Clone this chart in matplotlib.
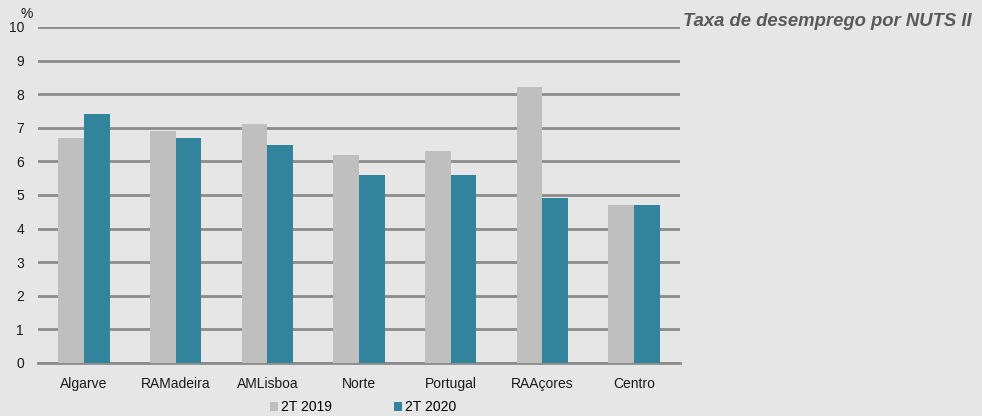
import matplotlib
matplotlib.use("Agg")
import matplotlib.pyplot as plt
import numpy as np

plt.rcParams["font.family"] = ["Liberation Sans", "DejaVu Sans"]

# --- dados ---
categorias = ["Algarve", "RAMadeira", "AMLisboa", "Norte", "Portugal", "RAAçores", "Centro"]
t2_2019 = [6.7, 6.9, 7.1, 6.2, 6.3, 8.2, 4.7]
t2_2020 = [7.4, 6.7, 6.5, 5.6, 5.6, 4.9, 4.7]
series_labels = ["2T 2019", "2T 2020"]
titulo = "Taxa de desemprego por NUTS II"

BG = "#e6e6e6"
CINZA = "#bfbfbf"
AZUL = "#31849b"
GRELHA = "#8c8c8c"

fig = plt.figure(figsize=(9.82, 4.16), dpi=100, facecolor=BG)
ax = fig.add_axes([38 / 982, 1 - 363 / 416, 642 / 982, 336 / 416])
ax.set_facecolor(BG)

x = np.arange(len(categorias))
w = 0.28
ax.bar(x - w / 2, t2_2019, w, color=CINZA, label=series_labels[0], zorder=3)
ax.bar(x + w / 2, t2_2020, w, color=AZUL, label=series_labels[1], zorder=3)

ax.set_xlim(-0.5, len(categorias) - 0.5)
ax.set_ylim(0, 10)
ax.set_yticks(range(0, 11))
ax.yaxis.grid(True, color=GRELHA, linewidth=2, zorder=0)
ax.set_axisbelow(True)
for s in ["top", "right", "left"]:
    ax.spines[s].set_visible(False)
ax.spines["bottom"].set_color(GRELHA)
ax.spines["bottom"].set_linewidth(2)
ax.tick_params(axis="both", length=0, labelsize=10, colors="#1a1a1a")
ax.tick_params(axis="y", pad=10)
ax.tick_params(axis="x", pad=10)
ax.set_xticks(x)
ax.set_xticklabels(categorias)

fig.text(27 / 982, 1 - 14 / 416, "%", fontsize=10, ha="center", va="center", color="#1a1a1a")
fig.text(683 / 982, 1 - 22 / 416, titulo, fontsize=13.3, fontweight="bold", fontstyle="italic",
         color="#595959", ha="left", va="center")

fig.legend(loc="center", bbox_to_anchor=(363 / 982, 1 - 407 / 416), ncol=2, frameon=False,
           fontsize=10, handlelength=0.6, handleheight=0.6, handletextpad=0.2,
           columnspacing=4.5, borderpad=0)

plt.savefig("out.png", dpi=100, facecolor=BG)
